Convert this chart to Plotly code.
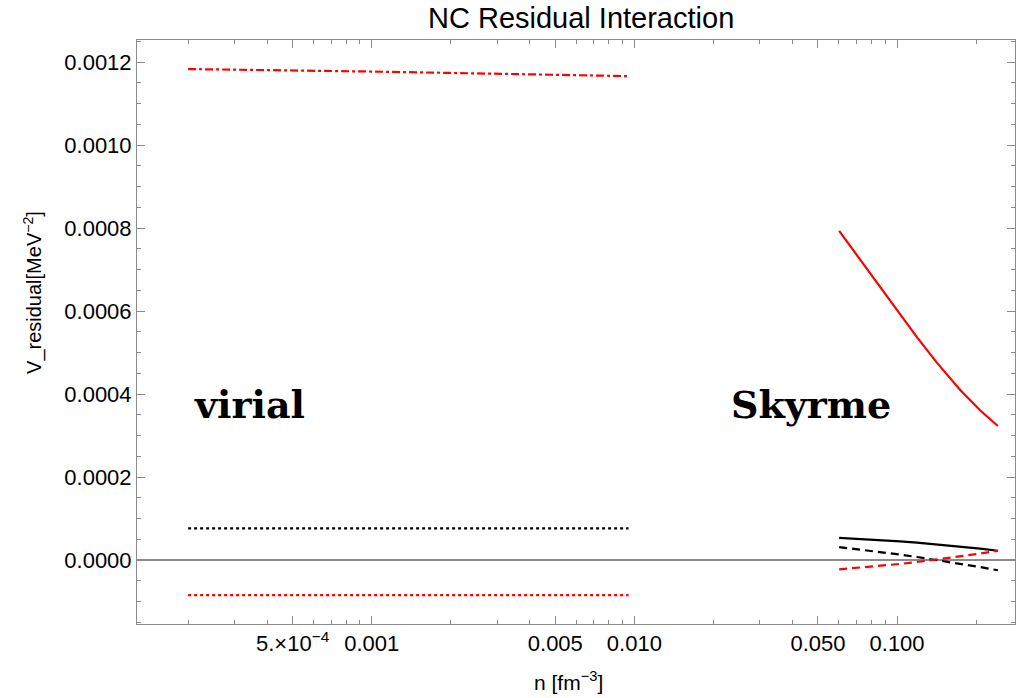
import plotly.graph_objects as go

# Virial expansion (low density)
virial_n = [0.0002, 0.001, 0.0095]
virial_red_dashdot = [0.001183, 0.001177, 0.001166]
virial_black_dot = [0.0000764, 0.0000764, 0.0000764]
virial_red_dot = [-0.0000843, -0.0000843, -0.0000843]

# Skyrme (high density)
skyrme_n = [0.0602, 0.0789, 0.1027, 0.119, 0.142, 0.174, 0.207, 0.242]
skyrme_red_solid = [0.000793, 0.000692, 0.000595, 0.000537, 0.000475, 0.000410, 0.000361, 0.000323]
skyrme_black_solid = [0.0000537, 0.0000498, 0.0000450, 0.0000419, 0.0000378, 0.0000325, 0.0000274, 0.0000224]
skyrme_black_dash = [0.0000313, 0.0000226, 0.0000132, 0.0000074, 0.0000002, -0.0000086, -0.0000168, -0.0000246]
skyrme_red_dash = [-0.0000224, -0.0000163, -0.0000092, -0.0000047, 0.0000012, 0.0000086, 0.0000156, 0.0000224]

x_tickvals = [5e-4, 0.001, 0.005, 0.01, 0.05, 0.1]
x_ticktext = ["5.×10<sup>−4</sup>", "0.001", "0.005", "0.010", "0.050", "0.100"]
x_minor = [2e-4, 3e-4, 4e-4, 6e-4, 7e-4, 8e-4, 9e-4,
           0.002, 0.003, 0.004, 0.006, 0.007, 0.008, 0.009,
           0.02, 0.03, 0.04, 0.06, 0.07, 0.08, 0.09, 0.2]

RED = "#ff0000"
BLACK = "#000000"
FRAME = "#8c8c8c"

fig = go.Figure()

def add(xs, ys, color, dash):
    fig.add_trace(go.Scatter(x=xs, y=ys, mode="lines",
                             line=dict(color=color, width=2.2, dash=dash),
                             showlegend=False, hoverinfo="skip"))

add(virial_n, virial_red_dashdot, RED, "8px,3px,3px,3px")
add(virial_n, virial_black_dot, BLACK, "3px,3px")
add(virial_n, virial_red_dot, RED, "3px,3px")
add(skyrme_n, skyrme_red_solid, RED, "solid")
add(skyrme_n, skyrme_black_solid, BLACK, "solid")
add(skyrme_n, skyrme_black_dash, BLACK, "8px,5px")
add(skyrme_n, skyrme_red_dash, RED, "8px,5px")

tick_font = dict(family="Liberation Sans, Arial, sans-serif", size=22, color="black")

fig.update_xaxes(
    type="log", range=[-3.8935, -0.551],
    tickmode="array", tickvals=x_tickvals, ticktext=x_ticktext,
    ticks="inside", ticklen=8, tickcolor=FRAME, tickwidth=1,
    minor=dict(tickmode="array", tickvals=x_minor, ticks="inside",
               ticklen=4, tickcolor=FRAME, tickwidth=1, showgrid=False),
    showline=True, linecolor=FRAME, linewidth=1, mirror="allticks",
    showgrid=False, zeroline=False, tickfont=tick_font,
)
fig.update_yaxes(
    range=[-0.000154, 0.001253],
    tickmode="linear", tick0=0, dtick=0.0002, tickformat=".4f",
    ticks="inside", ticklen=8, tickcolor=FRAME, tickwidth=1,
    minor=dict(dtick=0.00005, ticks="inside", ticklen=4,
               tickcolor=FRAME, tickwidth=1, showgrid=False),
    showline=True, linecolor=FRAME, linewidth=1, mirror="allticks",
    showgrid=False, zeroline=True, zerolinecolor=FRAME, zerolinewidth=1.5,
    tickfont=tick_font,
)

label_font = dict(family="Liberation Sans, Arial, sans-serif", size=21, color="black")
big_font = dict(family="DejaVu Serif", size=38, color="black")

fig.update_layout(
    width=1023, height=698,
    margin=dict(l=137, r=8, t=40, b=74),
    plot_bgcolor="white", paper_bgcolor="white",
    annotations=[
        dict(text="NC Residual Interaction", xref="paper", yref="paper",
             x=0.5057, y=1.0377, xanchor="center", yanchor="middle",
             showarrow=False,
             font=dict(family="Liberation Sans, Arial, sans-serif", size=29, color="black")),
        dict(text="V_residual[MeV<sup>−2</sup>]", xref="paper", yref="paper",
             x=-0.1185, y=0.5685, xanchor="center", yanchor="middle",
             textangle=-90, showarrow=False,
             font=dict(family="Liberation Sans, Arial, sans-serif", size=20, color="black")),
        dict(text="n [fm<sup>−3</sup>]", xref="paper", yref="paper",
             x=0.4909, y=-0.0976, xanchor="center", yanchor="middle",
             showarrow=False, font=label_font),
        dict(text="<b>virial</b>", xref="paper", yref="paper",
             x=0.1287, y=0.3767, xanchor="center", yanchor="middle",
             showarrow=False, font=big_font),
        dict(text="<b>Skyrme</b>", xref="paper", yref="paper",
             x=0.7677, y=0.3767, xanchor="center", yanchor="middle",
             showarrow=False, font=big_font),
    ],
)

fig.write_html("out.html")
